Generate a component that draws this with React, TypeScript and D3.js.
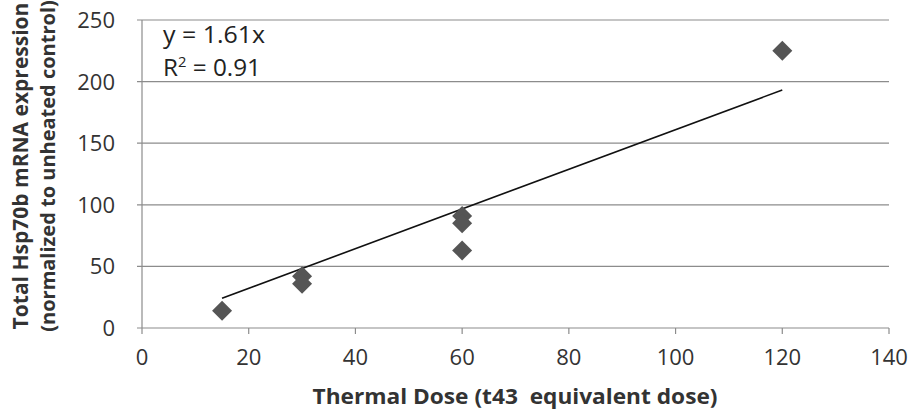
import React from "react";
import * as d3 from "d3";

const doses = [15, 30, 30, 60, 60, 60, 120];
const expression = [14, 42, 36, 91, 85, 63, 225];
const xTicks = [0, 20, 40, 60, 80, 100, 120, 140];
const yTicks = [0, 50, 100, 150, 200, 250];
const slope = 1.61;
const equationLine1 = "y = 1.61x";
const rSquared = "0.91";
const xTitle = "Thermal Dose (t43  equivalent dose)";
const yTitleLines = ["Total Hsp70b mRNA expression", "(normalized to unheated control)"];

const W = 911;
const H = 419;
const left = 142;
const right = 889;
const top = 20;
const bottom = 328;

export default function App() {
  const x = d3.scaleLinear().domain([0, 140]).range([left, right]);
  const y = d3.scaleLinear().domain([0, 250]).range([bottom, top]);
  const fitX = d3.extent(doses) as [number, number];
  const line = d3.line<number>().x((d) => x(d)).y((d) => y(slope * d));
  const diamond = d3.symbol().type(d3.symbolSquare).size(200)();
  const font = "'Open Sans', sans-serif";
  return (
    <svg width={W} height={H} style={{ position: "absolute", left: 0, top: 0, background: "#fff" }}>
      {yTicks.map((t) => (
        <line key={"g" + t} x1={left - 5} x2={right} y1={y(t)} y2={y(t)} stroke="#8c8c8c" strokeWidth={1.2} />
      ))}
      <line x1={left} x2={left} y1={top} y2={bottom} stroke="#8c8c8c" strokeWidth={1.2} />
      {xTicks.map((t) => (
        <line key={"xt" + t} x1={x(t)} x2={x(t)} y1={bottom} y2={bottom + 6} stroke="#8c8c8c" strokeWidth={1.2} />
      ))}
      {yTicks.map((t) => (
        <text key={"yl" + t} x={left - 27} y={y(t) + 8} textAnchor="end" fontFamily={font} fontSize={22} fill="#333">
          {t}
        </text>
      ))}
      {xTicks.map((t) => (
        <text key={"xl" + t} x={x(t)} y={bottom + 37} textAnchor="middle" fontFamily={font} fontSize={22} fill="#333">
          {t}
        </text>
      ))}
      <path d={line(fitX) || ""} fill="none" stroke="#111" strokeWidth={1.6} />
      {doses.map((d, i) => (
        <path
          key={"p" + i}
          d={diamond || ""}
          transform={`translate(${x(d)},${y(expression[i])}) rotate(45)`}
          fill="#555"
        />
      ))}
      <text x={163} y={43} fontFamily={font} fontSize={23} fill="#222" textLength={102} lengthAdjust="spacingAndGlyphs">
        {equationLine1}
      </text>
      <text x={163} y={76} fontFamily={font} fontSize={23} fill="#222" textLength={98} lengthAdjust="spacingAndGlyphs">
        R<tspan dy={-9} fontSize={14}>2</tspan>
        <tspan dy={9}>{" = " + rSquared}</tspan>
      </text>
      <text
        x={515}
        y={404}
        textAnchor="middle"
        fontFamily={font}
        fontWeight="bold"
        fontSize={21}
        fill="#333"
        textLength={405}
        lengthAdjust="spacingAndGlyphs"
        style={{ whiteSpace: "pre" }}
      >
        {xTitle}
      </text>
      {yTitleLines.map((s, i) => (
        <text
          key={"yt" + i}
          transform={`translate(${28 + i * 27},${166}) rotate(-90)`}
          textAnchor="middle"
          fontFamily={font}
          fontWeight="bold"
          fontSize={i === 0 ? 21 : 20}
          fill="#333"
        >
          {s}
        </text>
      ))}
    </svg>
  );
}
